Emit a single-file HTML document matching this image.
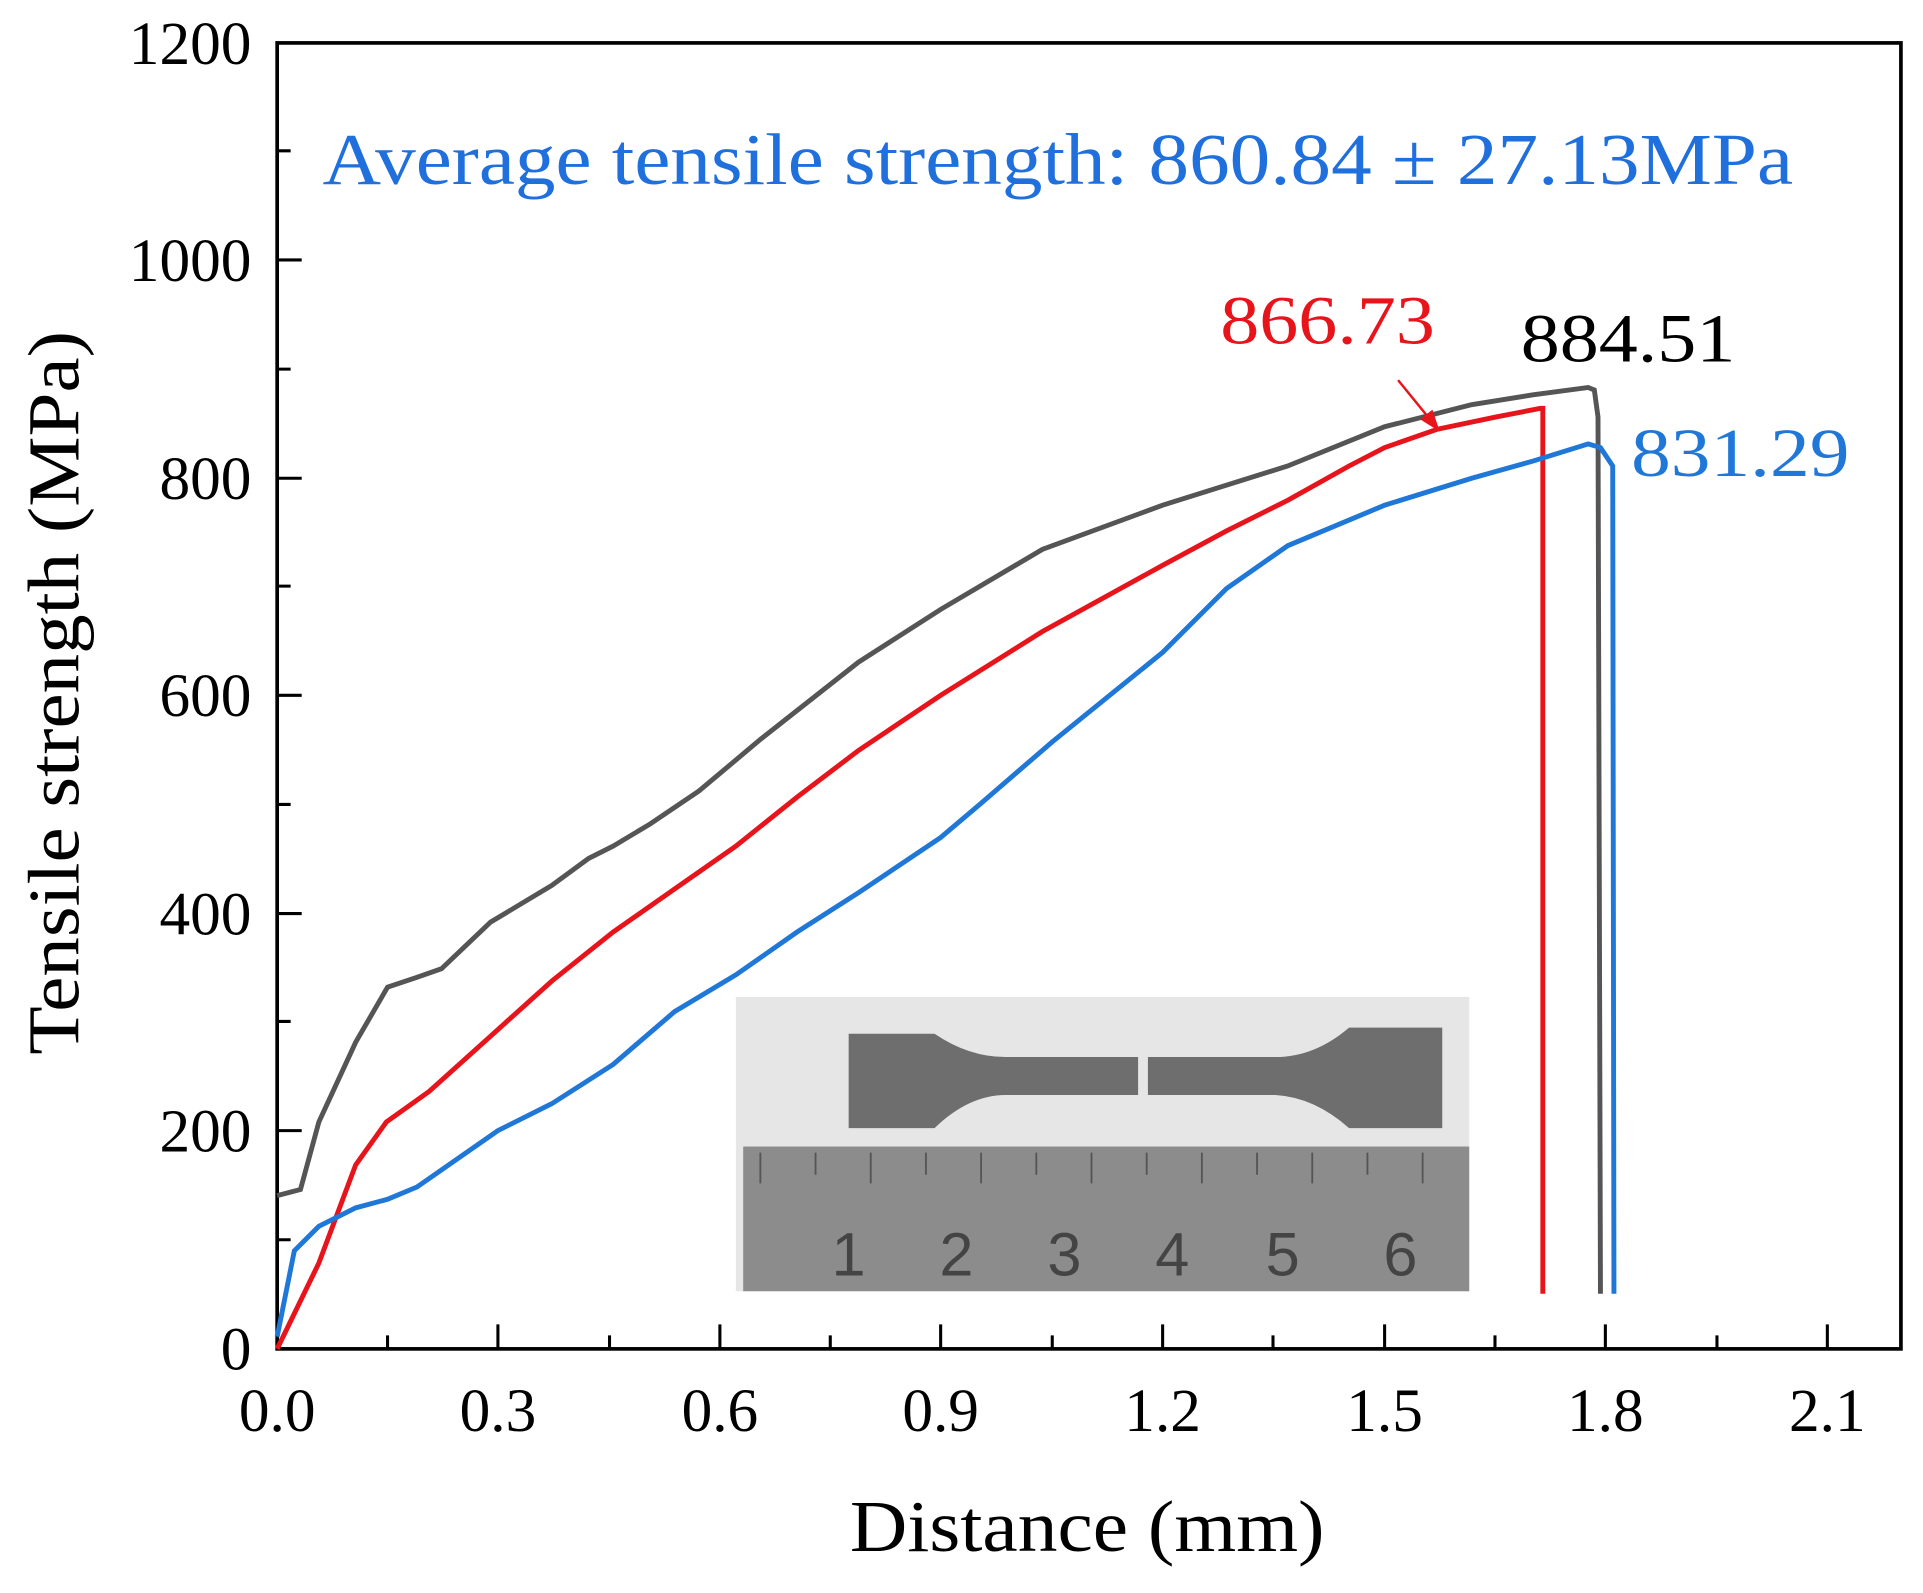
<!DOCTYPE html>
<html><head><style>html,body{margin:0;padding:0;background:#fff}</style></head><body>
<svg width="1923" height="1588" viewBox="0 0 1568 1295" preserveAspectRatio="none" xmlns="http://www.w3.org/2000/svg" font-family="Liberation Serif, serif">
<rect x="0" y="0" width="1568" height="1295" fill="#fff"/>
<!-- inset photo -->
<rect x="600" y="813" width="598" height="240" fill="#e6e6e6"/>
<path d="M692,843 L762,843 Q790,862 820,862 L928,862 L928,893 L820,893 Q790,893 762,920 L692,920 Z" fill="#6e6e6e"/>
<path d="M1176,838 L1100,838 Q1072,862 1040,862 L936,862 L936,893 L1040,893 Q1072,895 1100,920 L1176,920 Z" fill="#6e6e6e"/>
<rect x="606" y="935" width="592" height="118" fill="#8c8c8c"/>
<g stroke="#555" stroke-width="1.5">
<path d="M620,940v25M665,940v18M710,940v25M755,940v18M800,940v25M845,940v18M890,940v25M935,940v18M980,940v25M1025,940v18M1070,940v25M1115,940v18M1160,940v25"/>
</g>
<g font-family="Liberation Sans, sans-serif" font-size="50" fill="#444">
<text x="678" y="1040">1</text><text x="766" y="1040">2</text><text x="854" y="1040">3</text><text x="942" y="1040">4</text><text x="1032" y="1040">5</text><text x="1128" y="1040">6</text>
</g>
<!-- axes frame -->
<rect x="226" y="35" width="1324" height="1065" fill="none" stroke="#000" stroke-width="3"/>
<g stroke="#000" stroke-width="2.5">
<path d="M406,1100v-20M587,1100v-20M767,1100v-20M948,1100v-20M1129,1100v-20M1309,1100v-20M1490,1100v-20"/>
<path d="M316,1100v-11M497,1100v-11M677,1100v-11M858,1100v-11M1038,1100v-11M1219,1100v-11M1400,1100v-11"/>
<path d="M226,922h20M226,745h20M226,567h20M226,390h20M226,212h20"/>
<path d="M226,1011h11M226,833h11M226,656h11M226,478h11M226,301h11M226,123h11"/>
</g>
<g font-size="50" fill="#000" text-anchor="middle">
<text x="226" y="1167">0.0</text><text x="406" y="1167">0.3</text><text x="587" y="1167">0.6</text><text x="767" y="1167">0.9</text><text x="948" y="1167">1.2</text><text x="1129" y="1167">1.5</text><text x="1309" y="1167">1.8</text><text x="1490" y="1167">2.1</text>
</g>
<g font-size="50" fill="#000" text-anchor="end">
<text x="205" y="1117">0</text><text x="205" y="939">200</text><text x="205" y="762">400</text><text x="205" y="584">600</text><text x="205" y="407">800</text><text x="205" y="229">1000</text><text x="205" y="52">1200</text>
</g>
<text x="693" y="1265" font-size="60" textLength="387" lengthAdjust="spacingAndGlyphs">Distance (mm)</text>
<text transform="translate(64,860) rotate(-90)" font-size="60" textLength="590" lengthAdjust="spacingAndGlyphs">Tensile strength (MPa)</text>
<text x="263" y="150" font-size="60" fill="#1f6fdc" textLength="1199" lengthAdjust="spacingAndGlyphs">Average tensile strength: 860.84 ± 27.13MPa</text>
<!-- curves -->
<polyline fill="none" stroke="#555" stroke-width="4" points="226,975 245,970 260,915 290,850 316,805 340,797 360,790 400,752 450,722 480,700 500,690 530,672 570,645 620,603 700,540 767,497 850,448 948,412 1050,380 1129,348 1200,330 1250,322 1295,316 1300,318 1303,340 1305,1055"/>
<polyline fill="none" stroke="#e8141b" stroke-width="4" points="226,1100 260,1030 290,950 315,915 350,890 400,845 450,800 500,760 550,725 600,690 650,650 700,612 767,567 850,515 948,461 1000,433 1050,408 1100,380 1129,365 1172,350 1220,340 1256,333 1258,333 1258,1055"/>
<polyline fill="none" stroke="#1f77d8" stroke-width="4" points="226,1090 240,1020 260,1000 290,985 316,978 340,968 406,922 450,900 500,868 550,825 600,795 650,760 700,728 767,683 800,655 858,605 948,532 1000,480 1050,445 1129,412 1200,390 1250,376 1295,362 1305,365 1315,380 1316,1055"/>
<line x1="1140" y1="310" x2="1166" y2="342" stroke="#e8141b" stroke-width="2"/>
<polygon points="1174,352 1158,342 1168,334" fill="#e8141b"/>
<text x="995" y="280" font-size="56" fill="#e8141b" textLength="175" lengthAdjust="spacingAndGlyphs">866.73</text>
<text x="1240" y="295" font-size="56" fill="#000" textLength="175" lengthAdjust="spacingAndGlyphs">884.51</text>
<text x="1330" y="388" font-size="56" fill="#1f77d8" textLength="178" lengthAdjust="spacingAndGlyphs">831.29</text>
</svg>
</body></html>
